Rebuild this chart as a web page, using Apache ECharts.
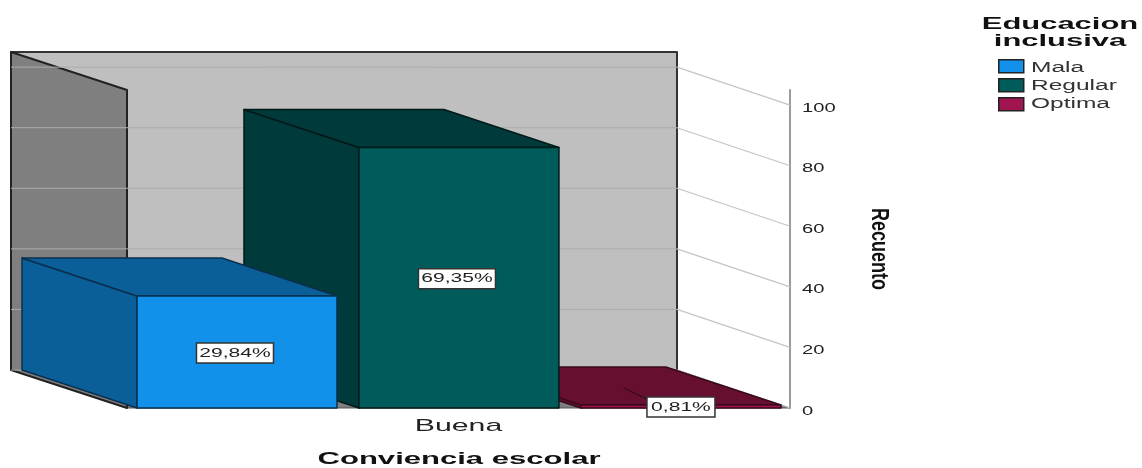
<!DOCTYPE html>
<html>
<head>
<meta charset="utf-8">
<style>html,body{margin:0;padding:0;background:#fff}#c{width:1142px;height:468px}</style>
<script src="https://cdn.jsdelivr.net/npm/echarts@6/dist/echarts.min.js"></script>
</head>
<body>
<div id="c"></div>
<script>
const categories = ['Buena'];
const seriesNames = ['Mala', 'Regular', 'Optima'];
const counts = [37, 86, 1];
const percentLabels = ['29,84%', '69,35%', '0,81%'];
const yTicks = [0, 20, 40, 60, 80, 100];
const yMax = 105;
const xTitle = 'Conviencia escolar';
const yTitle = 'Recuento';
const legendTitle = ['Educacion', 'inclusiva'];

const frontColors = ['#1191e9', '#005b5b', '#a0154f'];
const sideColors = ['#0b5f99', '#003a3a', '#660f30'];
const edgeColors = ['#0a3050', '#001a1a', '#3a0a1c'];
const DX = 116, DY = 38, BAR_DX = 115;
const FONT = '"Liberation Sans", Arial, sans-serif';

const poly = (pts, fill, stroke, lw) => ({
  type: 'polygon', shape: { points: pts },
  style: { fill, stroke, lineWidth: lw === undefined ? 1.5 : lw, lineJoin: 'round' }
});
const line = (a, b, stroke, lw) => ({
  type: 'line', shape: { x1: a[0], y1: a[1], x2: b[0], y2: b[1] },
  style: { stroke, lineWidth: lw || 1, fill: null }
});
const label = (text, x, y, size, sx, opts) => Object.assign({
  type: 'text', x, y, scaleX: sx,
  style: { text, fontFamily: FONT, fontSize: size, fill: '#222', align: (opts && opts.align) || 'center', verticalAlign: 'middle' }
});

function wallsItem(params, api) {
  const c = api.coord([0, 0]);
  const band = api.size([1, 0])[0];
  const l = c[0] - band / 2, r = c[0] + band / 2, y0 = c[1];
  const yT = api.coord([0, yMax])[1];
  return { type: 'group', children: [
    poly([[l - DX, y0 - DY], [r - DX + 3, y0 - DY], [r, y0], [l, y0]], '#7f7f7f', '#555', 1),
    poly([[l - DX, yT - DY], [r - DX + 3, yT - DY], [r - DX + 3, y0 - DY], [l - DX, y0 - DY]], '#bfbfbf', '#333', 2),
    poly([[l - DX, yT - DY], [l, yT], [l, y0], [l - DX, y0 - DY]], '#7f7f7f', '#222', 2)
  ] };
}

function gridItem(params, api) {
  const c = api.coord([0, api.value(1)]);
  const band = api.size([1, 0])[0];
  const l = c[0] - band / 2, r = c[0] + band / 2, y = c[1];
  return { type: 'group', children: [
    line([l - DX, y - DY], [r - DX + 3, y - DY], '#acacac', 1),
    line([r - DX + 3, y - DY], [r, y], '#c4c4c4', 1.2),
    label(String(api.value(1)), r + 12, y + 3, 13, 1.55, { align: 'left' })
  ] };
}

function barRenderer(i) {
  return function (params, api) {
    const c = api.coord([api.value(0), 0]);
    const band = api.size([1, 0])[0];
    const w = band * 0.3016, gap = band * 0.0332;
    const left = c[0] - band / 2 + band * 0.0151 + i * (w + gap);
    const right = left + w;
    const y0 = c[1];
    const yV = api.coord([api.value(0), api.value(1)])[1];
    const children = [
      poly([[left - BAR_DX, y0 - DY], [left, y0], [left, yV], [left - BAR_DX, yV - DY]], sideColors[i], edgeColors[i]),
      poly([[left - BAR_DX, yV - DY], [right - BAR_DX, yV - DY], [right, yV], [left, yV]], sideColors[i], edgeColors[i]),
      poly([[left, yV], [right, yV], [right, y0], [left, y0]], frontColors[i], edgeColors[i])
    ];
    let lx = (left + right) / 2 - 2, ly = (yV + y0) / 2 + 1;
    const boxW = i === 2 ? 68 : 77, boxH = 20;
    if (i === 2) {
      lx = left + 100;
      ly = y0 - 1;
      children.push(line([left + 43, y0 - 20], [lx - 30, ly - 6], '#2a0a16', 1));
    }
    children.push({
      type: 'rect', shape: { x: lx - boxW / 2, y: ly - boxH / 2, width: boxW, height: boxH },
      style: { fill: '#fff', stroke: '#333', lineWidth: 1.5 }
    });
    children.push(label(percentLabels[i], lx, ly, 13, 1.62));
    return { type: 'group', children };
  };
}

function catLabelItem(params, api) {
  const c = api.coord([api.value(0), 0]);
  return label(categories[api.value(0)], c[0], c[1] + 18, 17, 1.78);
}

const gtext = (text, x, y, size, sx, weight, color, extra) => Object.assign({
  type: 'text', x, y, scaleX: sx, silent: true,
  style: { text, fontFamily: FONT, fontSize: size, fontWeight: weight || 'normal', fill: color || '#222', align: 'center', verticalAlign: 'middle' }
}, extra || {});

const chart = echarts.init(document.getElementById('c'), null, { renderer: 'canvas' });
chart.setOption({
  animation: false,
  backgroundColor: '#fff',
  grid: { left: 127, right: 352, top: 90, bottom: 60 },
  xAxis: { type: 'category', data: categories, axisLine: { show: false }, axisTick: { show: false }, axisLabel: { show: false } },
  yAxis: {
    type: 'value', position: 'right', min: 0, max: yMax, interval: 20,
    axisLine: { show: true, lineStyle: { color: '#9a9a9a', width: 2 } },
    axisTick: { show: false }, axisLabel: { show: false }, splitLine: { show: false }
  },
  legend: {
    data: seriesNames, orient: 'vertical', left: 998, top: 59, padding: 0,
    icon: 'rect', itemWidth: 25, itemHeight: 13, itemGap: 4.5, selectedMode: false,
    formatter: () => ' ',
    itemStyle: { borderColor: '#222', borderWidth: 1.5 }
  },
  series: [
    { type: 'custom', name: 'walls', z: 1, renderItem: wallsItem, encode: { x: 0, y: 1 }, data: [[0, 0]], silent: true },
    { type: 'custom', name: 'grid', z: 2, renderItem: gridItem, encode: { x: 0, y: 1 }, data: yTicks.map(v => [0, v]), silent: true },
    { type: 'custom', name: 'cat', z: 2, renderItem: catLabelItem, encode: { x: 0, y: 1 }, data: categories.map((_, k) => [k, 0]), silent: true },
    ...seriesNames.map((n, i) => ({
      type: 'custom', name: n, z: 5 - i, renderItem: barRenderer(i),
      encode: { x: 0, y: 1 }, itemStyle: { color: frontColors[i] },
      data: [[0, counts[i]]]
    }))
  ],
  graphic: { elements: [
    gtext(xTitle, 459, 460, 16, 1.94, 'bold', '#111'),
    gtext(yTitle, 879, 249, 18, 1, 'bold', '#111', { rotation: -Math.PI / 2, scaleX: 1.0, scaleY: 1.35 }),
    gtext(legendTitle[0], 1060, 24, 17, 1.82, 'bold', '#111'),
    gtext(legendTitle[1], 1060, 41, 17, 1.82, 'bold', '#111'),
    ...seriesNames.map((n, i) => gtext(n, 1031, [68, 86, 104][i], 14, 1.75, 'normal', '#333', { style: { text: n, fontFamily: FONT, fontSize: 14, fill: '#333', align: 'left', verticalAlign: 'middle' } }))
  ] }
});
</script>
</body>
</html>
